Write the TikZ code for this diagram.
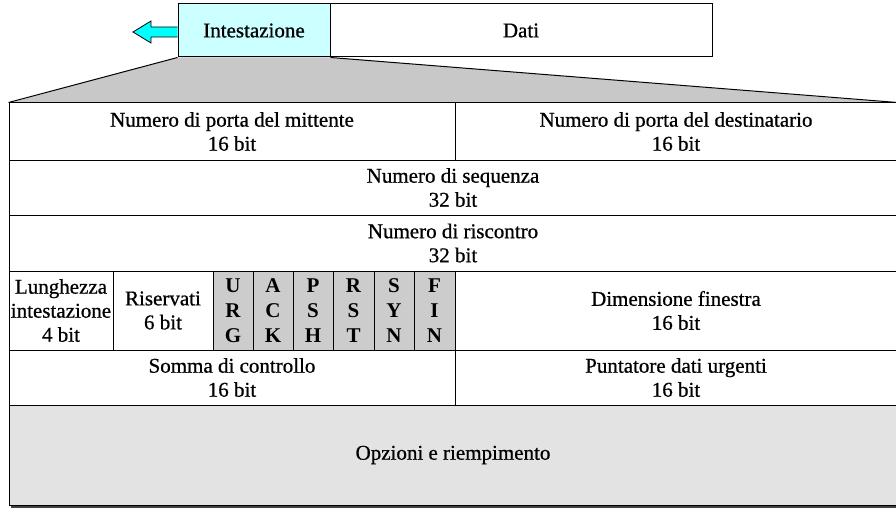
\documentclass[tikz,border=0pt]{standalone}
\usepackage{fontspec}
\setmainfont{Liberation Serif}[UprightFeatures={FakeBold=0.7}]
\definecolor{hdrcyan}{HTML}{CCFFFF}
\definecolor{arrcyan}{HTML}{00FFFF}
\definecolor{trapgray}{HTML}{C8C8C8}
\definecolor{flaggray}{HTML}{CCCCCC}
\definecolor{optgray}{HTML}{E3E3E3}
\tikzset{
  cell/.style={draw=black, line width=1pt, inner sep=0pt, align=center,
    font=\fontsize{21}{24}\selectfont},
  flag/.style={cell, fill=flaggray, font=\fontsize{21}{25}\selectfont\bfseries},
  edge/.style={draw=black, line width=1pt},
}
\begin{document}
\begin{tikzpicture}[x=1pt, y=-1pt]
\useasboundingbox (0,0) rectangle (896,508);
% top packet
\node[cell, fill=hdrcyan, minimum width=152pt, minimum height=53pt] (hdr) at (254,30.5) {Intestazione};
\node[cell, fill=white, minimum width=382pt, minimum height=53pt] (dati) at (521,30.5) {Dati};
% arrow
\draw[line width=0.8pt, fill=arrcyan] (hdr.west |- 0,27) -- (151,27) -- (151,21) -- (133,32) -- (151,43) -- (151,37) -- (hdr.west |- 0,37);
% trapezoid
\coordinate (tl) at (9,103);
\coordinate (tr) at (897,103);
\fill[trapgray] (hdr.south west) -- (hdr.south east) -- (tr) -- (tl) -- cycle;
% table cells
\node[cell, fill=white, minimum width=446pt, minimum height=57pt] (src) at (232,131.5) {Numero di porta del mittente\\16 bit};
\node[cell, fill=white, minimum width=442pt, minimum height=57pt] (dst) at (676,131.5) {Numero di porta del destinatario\\16 bit};
\node[cell, fill=white, minimum width=888pt, minimum height=55pt] (seq) at (453,187.5) {Numero di sequenza\\32 bit};
\node[cell, fill=white, minimum width=888pt, minimum height=56pt] (ackn) at (453,243) {Numero di riscontro\\32 bit};
\node[cell, fill=white, minimum width=104pt, minimum height=79pt] (len) at (61,310.5) {Lunghezza\\intestazione\\4 bit};
\node[cell, fill=white, minimum width=100pt, minimum height=79pt] (res) at (163,310.5) {Riservati\\6 bit};
\node[flag, minimum width=40pt, minimum height=79pt] (urg) at (233,310.5) {U\\R\\G};
\node[flag, minimum width=40pt, minimum height=79pt] (ack) at (273,310.5) {A\\C\\K};
\node[flag, minimum width=40pt, minimum height=79pt] (psh) at (313,310.5) {P\\S\\H};
\node[flag, minimum width=41pt, minimum height=79pt] (rst) at (353.5,310.5) {R\\S\\T};
\node[flag, minimum width=40pt, minimum height=79pt] (syn) at (394,310.5) {S\\Y\\N};
\node[flag, minimum width=41pt, minimum height=79pt] (fin) at (434.5,310.5) {F\\I\\N};
\node[cell, fill=white, minimum width=442pt, minimum height=79pt] (win) at (676,310.5) {Dimensione finestra\\16 bit};
\node[cell, fill=white, minimum width=446pt, minimum height=55pt] (chk) at (232,377.5) {Somma di controllo\\16 bit};
\node[cell, fill=white, minimum width=442pt, minimum height=55pt] (urp) at (676,377.5) {Puntatore dati urgenti\\16 bit};
\draw[line width=2pt, black!75] (11,506.5) -- (898,506.5);
\node[cell, fill=optgray, minimum width=888pt, minimum height=100pt] (opt) at (453,455) {Opzioni e riempimento};
% connectors of the zoom
\draw[edge] (hdr.south west) -- (src.north west);
\draw[edge] (hdr.south east) -- (dst.north east);
\end{tikzpicture}
\end{document}
